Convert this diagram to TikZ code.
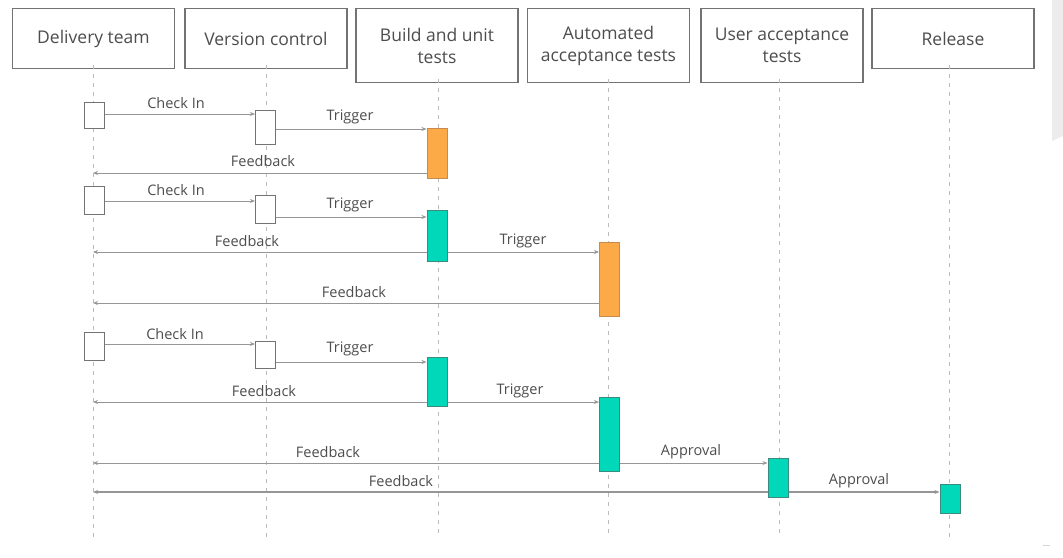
\documentclass[tikz,border=0pt]{standalone}
\usepackage{fontspec}
\setmainfont{Open Sans}
\usetikzlibrary{arrows.meta}
\definecolor{txt}{HTML}{4D4D4D}
\definecolor{boxgray}{HTML}{737373}
\definecolor{lifegray}{HTML}{BBBBBB}
\definecolor{arrowgray}{HTML}{969696}
\definecolor{orangefill}{HTML}{FCAA48}
\definecolor{orangeedge}{HTML}{C98A50}
\definecolor{tealfill}{HTML}{00D8B9}
\definecolor{tealedge}{HTML}{3A8C7E}
\definecolor{sheet}{HTML}{ECECEC}
\begin{document}
\begin{tikzpicture}[x=1pt,y=-1pt,
  hdr/.style={draw=boxgray, line width=1.1pt, minimum width=162pt, text=txt,
    font=\fontsize{17.5}{22}\selectfont, align=center, inner sep=0pt, anchor=north},
  life/.style={draw=lifegray, line width=1pt, dash pattern=on 4pt off 5pt},
  actw/.style={draw=boxgray, fill=white, line width=1pt, minimum width=20pt, inner sep=0pt},
  acto/.style={draw=orangeedge, fill=orangefill, line width=1pt, minimum width=20pt, inner sep=0pt},
  actt/.style={draw=tealedge, fill=tealfill, line width=1pt, minimum width=20pt, inner sep=0pt},
  msg/.style={draw=arrowgray, line width=0.9pt, -{Stealth[length=5pt,width=4pt]}},
  lbl/.style={text=txt, font=\fontsize{14.5}{17}\selectfont, inner sep=0pt}
]
\useasboundingbox (0,0) rectangle (1063,557);
\fill[white] (0,0) rectangle (1063,557);
\fill[sheet] (1052,0) -- (1063,0) -- (1063,136) -- (1052,141) -- cycle;
\draw[sheet!80!gray, line width=1pt] (1043,545) -- (1050,545);

% header boxes
\node[hdr, minimum height=60pt] (H1) at (93.5,8) {Delivery team};
\node[hdr, minimum height=60pt] (H2) at (266,8) {Version control};
\node[hdr, minimum height=74pt] (H3) at (437,8) {Build and unit\\tests};
\node[hdr, minimum height=74pt] (H4) at (608.5,8) {Automated\\acceptance tests};
\node[hdr, minimum height=74pt] (H5) at (782,8) {User acceptance\\tests};
\node[hdr, minimum height=60pt] (H6) at (953,8) {Release};

% lifelines
\coordinate (L1) at (93,537);
\coordinate (L2) at (266,537);
\coordinate (L3) at (438,537);
\coordinate (L4) at (608,537);
\coordinate (L5) at (779,537);
\coordinate (L6) at (949,537);
\draw[life] ([yshift=4pt]H1.south -| L1) -- (L1);
\draw[life] ([yshift=4pt]H2.south -| L2) -- (L2);
\draw[life] ([yshift=4pt]H3.south -| L3) -- (L3);
\draw[life] ([yshift=4pt]H4.south -| L4) -- (L4);
\draw[life] ([yshift=4pt]H5.south -| L5) -- (L5);
\draw[life] ([yshift=4pt]H6.south -| L6) -- (L6);

% activation boxes, round 1
\node[actw, minimum height=26pt] (d1) at (94.5,115) {};
\node[actw, minimum height=34pt] (v1) at (265.5,127) {};
\node[acto, minimum height=50pt] (b1) at (437,153) {};
% round 2
\node[actw, minimum height=28pt] (d2) at (94.5,200) {};
\node[actw, minimum height=28pt] (v2) at (265.5,209) {};
\node[actt, minimum height=51pt] (b2) at (437,235.5) {};
\node[acto, minimum height=74pt] (a2) at (609.5,279) {};
% round 3
\node[actw, minimum height=28pt] (d3) at (94.5,346) {};
\node[actw, minimum height=27pt] (v3) at (265.5,354.5) {};
\node[actt, minimum height=49pt] (b3) at (437,381.5) {};
\node[actt, minimum height=74pt] (a3) at (609.5,434) {};
\node[actt, minimum height=39pt] (u3) at (778,477.5) {};
\node[actt, minimum height=29pt] (r3) at (950,498.5) {};

% messages, round 1
\draw[msg] (d1.east |- 0,114) -- (v1.west |- 0,114);
\draw[msg] (v1.east |- 0,129) -- (b1.west |- 0,129);
\draw[msg] (b1.west |- 0,173) -- (L1 |- 0,173);
\node[lbl] (t1) at (176,103) {Check In};
\node[lbl] (t2) at (350,117) {Trigger};
\node[lbl] (t3) at (263,161) {Feedback};
% round 2
\draw[msg] (d2.east |- 0,201) -- (v2.west |- 0,201);
\draw[msg] (v2.east |- 0,217) -- (b2.west |- 0,217);
\draw[msg] (b2.west |- 0,252) -- (L1 |- 0,252);
\draw[msg] (b2.east |- 0,252) -- (a2.west |- 0,252);
\draw[msg] (a2.west |- 0,303) -- (L1 |- 0,303);
\node[lbl] (t4) at (176,190) {Check In};
\node[lbl] (t5) at (350,205) {Trigger};
\node[lbl] (t6) at (247,241) {Feedback};
\node[lbl] (t7) at (523,241) {Trigger};
\node[lbl] (t8) at (354,292) {Feedback};
% round 3
\draw[msg] (d3.east |- 0,344) -- (v3.west |- 0,344);
\draw[msg] (v3.east |- 0,362) -- (b3.west |- 0,362);
\draw[msg] (b3.west |- 0,402) -- (L1 |- 0,402);
\draw[msg] (b3.east |- 0,402) -- (a3.west |- 0,402);
\draw[msg] (a3.west |- 0,463) -- (L1 |- 0,463);
\draw[msg] (a3.east |- 0,463) -- (u3.west |- 0,463);
\draw[msg, line width=1.2pt] (u3.west |- 0,492) -- (L1 |- 0,492);
\draw[msg, line width=1.2pt] (u3.east |- 0,492) -- (r3.west |- 0,492);
\node[lbl] (t9) at (175,334) {Check In};
\node[lbl] (t10) at (350,349) {Trigger};
\node[lbl] (t11) at (264,391) {Feedback};
\node[lbl] (t12) at (520,391) {Trigger};
\node[lbl] (t13) at (328,452) {Feedback};
\node[lbl] (t14) at (691,452) {Approval};
\node[lbl] (t15) at (401,481) {Feedback};
\node[lbl] (t16) at (859,481) {Approval};
\end{tikzpicture}
\end{document}
